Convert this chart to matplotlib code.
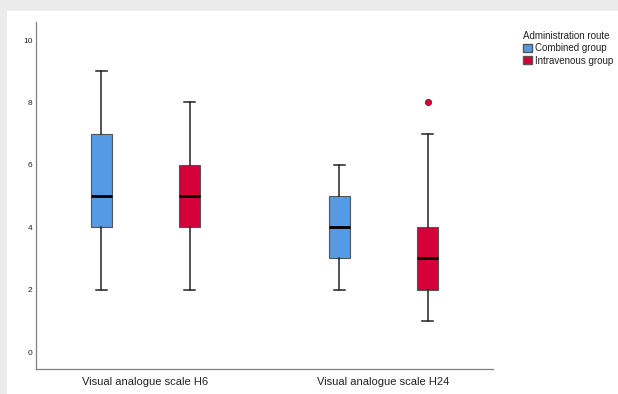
import matplotlib.pyplot as plt
from matplotlib.patches import Rectangle, Patch

plt.rcParams['font.family'] = ['Liberation Sans', 'DejaVu Sans']

# Données : (min, q1, médiane, q3, max)
categories = ["Visual analogue scale H6", "Visual analogue scale H24"]
groups = ["Combined group", "Intravenous group"]
combined = [(2, 4, 5, 7, 9), (2, 3, 4, 5, 6)]
intravenous = [(2, 4, 5, 6, 8), (1, 2, 3, 4, 7)]
outliers_iv = [[], [8]]
colors = ["#5699e4", "#d5003a"]

fig = plt.figure(figsize=(6.18, 3.94), dpi=100)
fig.patch.set_facecolor("#ebebeb")
fig.patches.append(Rectangle((7 / 618, 0), 1, 383 / 394, transform=fig.transFigure,
                             facecolor="white", edgecolor="none", zorder=-10))

ax = fig.add_axes([36 / 618, 25 / 394, (493 - 36) / 618, (372 - 25) / 394])
ax.set_facecolor("none")

stats = []
positions = []
box_colors = []
offset = 0.185
for i in range(len(categories)):
    for j, (serie, outl) in enumerate([(combined, [[], []]), (intravenous, outliers_iv)]):
        lo, q1, med, q3, hi = serie[i]
        stats.append(dict(whislo=lo, q1=q1, med=med, q3=q3, whishi=hi, fliers=outl[i]))
        positions.append(i + (offset if j else -offset))
        box_colors.append(colors[j])

bp = ax.bxp(stats, positions=positions, widths=0.092, patch_artist=True,
            capwidths=0.05,
            medianprops=dict(color="black", linewidth=2),
            whiskerprops=dict(color="#222222", linewidth=1.1),
            capprops=dict(color="#222222", linewidth=1.1),
            boxprops=dict(edgecolor="#555555", linewidth=0.8),
            flierprops=dict(marker="o", markersize=4.5, markerfacecolor=colors[1],
                            markeredgecolor="#7a0020", markeredgewidth=0.5))
for patch, c in zip(bp["boxes"], box_colors):
    patch.set_facecolor(c)

ax.set_xlim(-0.46, 1.46)
ax.set_ylim(-0.545, 10.58)
ax.set_yticks([0, 2, 4, 6, 8, 10])
ax.set_xticks([0, 1])
ax.set_xticklabels(categories, fontsize=8, color="#222222")
ax.tick_params(axis="y", length=0, labelsize=6, pad=2.5, labelcolor="#222222")
ax.tick_params(axis="x", length=0, pad=6)
for s in ["top", "right"]:
    ax.spines[s].set_visible(False)
for s in ["left", "bottom"]:
    ax.spines[s].set_color("#808080")
    ax.spines[s].set_linewidth(0.9)

handles = [Patch(facecolor=c, edgecolor="#555555", label=g) for c, g in zip(colors, groups)]
leg = fig.legend(handles=handles, title="Administration route", loc="upper left",
                 bbox_to_anchor=(518 / 618, 1 - 26 / 394), frameon=False, fontsize=7,
                 title_fontsize=7, handlelength=0.9, handleheight=0.9, handletextpad=0.3,
                 labelspacing=0.25, borderpad=0, alignment="left")
for t in leg.get_texts():
    t.set_color("#222222")
leg.get_title().set_color("#222222")

fig.savefig("out.png", dpi=100, facecolor=fig.get_facecolor())
